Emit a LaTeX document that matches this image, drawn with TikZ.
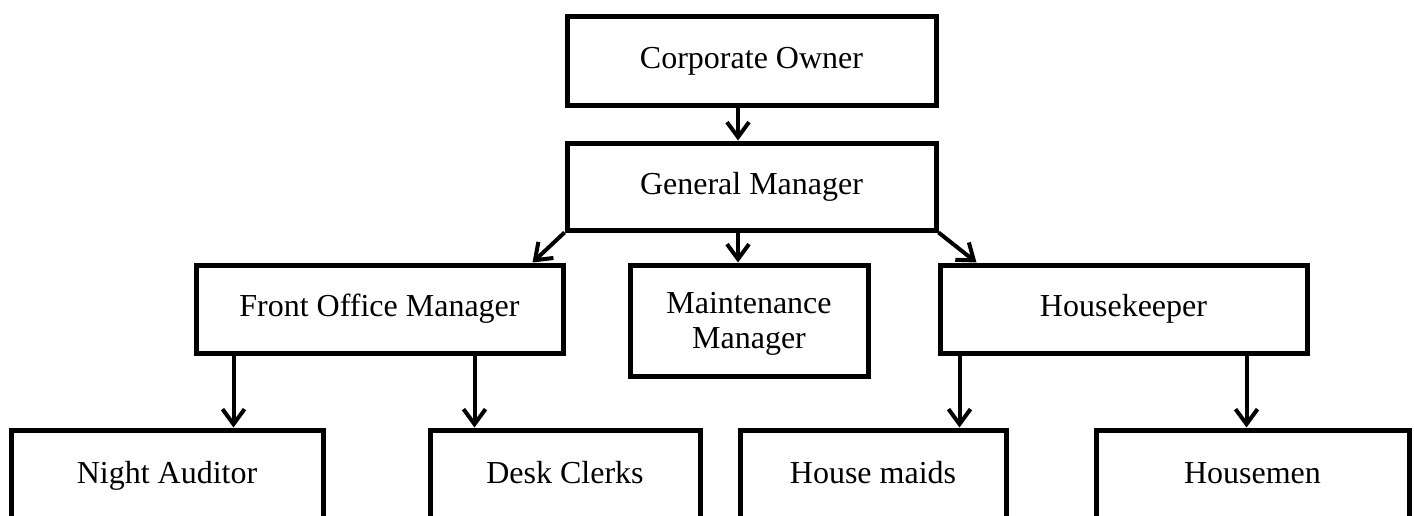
\documentclass[tikz,border=0pt]{standalone}
\usepackage{fontspec}
\setmainfont{Liberation Serif}
\usetikzlibrary{arrows.meta}

\begin{document}
\begin{tikzpicture}[x=1pt,y=-1pt,
  box/.style={draw=black,line width=5pt,fill=white,inner sep=0pt,
    align=center,font=\fontsize{32}{35}\selectfont},
  oneline/.style={box,text height=22pt,text depth=7pt},
  link/.style={draw=black,line width=4pt,
    -{Straight Barb[length=15pt,width=22pt,line width=4pt]}}]

  \useasboundingbox (0,0) rectangle (1414,515);
  \clip (0,0) rectangle (1414,515);
  \fill[white] (0,0) rectangle (1414,515);

  % top levels
  \node[oneline,minimum width=369pt,minimum height=89pt] (co) at (751.5,60.5) {Corporate Owner};
  \node[oneline,minimum width=369pt,minimum height=87pt] (gm) at (751.5,186.5) {General Manager};

  % department heads
  \node[oneline,minimum width=367pt,minimum height=88pt] (fom) at (379.5,309) {Front Office Manager};
  \node[box,minimum width=238pt,minimum height=111pt,text depth=0pt] (mm) at (749,320.5) {Maintenance\\Manager};
  \node[oneline,minimum width=367pt,minimum height=88pt] (hk) at (1123.5,309) {Housekeeper};

  % staff (boxes run past the lower edge)
  \node[oneline,minimum width=312pt,minimum height=92pt] (na) at (167,476) {Night Auditor};
  \node[oneline,minimum width=270pt,minimum height=92pt] (dc) at (565,476) {Desk Clerks};
  \node[oneline,minimum width=266pt,minimum height=92pt] (hm) at (873,476) {House maids};
  \node[oneline,minimum width=313pt,minimum height=92pt] (hmen) at (1252.5,476) {Housemen};

  % connector start points
  \coordinate (c1) at ([xshift=-13.5pt]co.south);
  \coordinate (c2) at ([xshift=-13.5pt]gm.south);
  \coordinate (f1) at ([xshift=40pt]fom.south west);
  \coordinate (f2) at ([xshift=281pt]fom.south west);
  \coordinate (h1) at ([xshift=22pt]hk.south west);
  \coordinate (h2) at ([xshift=309pt]hk.south west);

  \draw[link] (c1) -- (c1 |- gm.north);
  \draw[link] (c2) -- (c2 |- mm.north);
  \draw[link] (gm.south west) -- ([xshift=-33pt]fom.north east);
  \draw[link] (gm.south east) -- ([xshift=39pt]hk.north west);
  \draw[link] (f1) -- (f1 |- na.north);
  \draw[link] (f2) -- (f2 |- dc.north);
  \draw[link] (h1) -- (h1 |- hm.north);
  \draw[link] (h2) -- (h2 |- hmen.north);
\end{tikzpicture}
\end{document}
